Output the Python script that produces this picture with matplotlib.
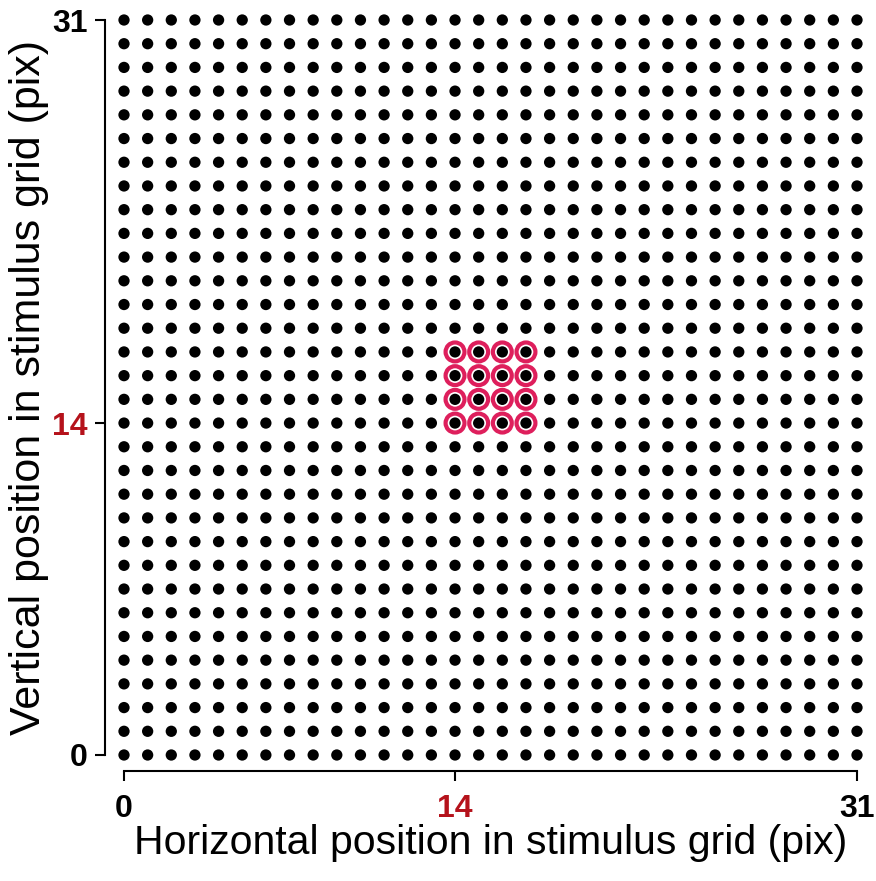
import matplotlib.pyplot as plt
import numpy as np

plt.rcParams['font.family'] = ['Liberation Sans', 'DejaVu Sans']

grid_size = 32
rf_x = [14, 15, 16, 17]
rf_y = [14, 15, 16, 17]
tick_vals = [0, 14, 31]
tick_labels = ['0', '14', '31']
tick_colors = ['black', '#B5121B', 'black']
xlabel = 'Horizontal position in stimulus grid (pix)'
ylabel = 'Vertical position in stimulus grid (pix)'

fig = plt.figure(figsize=(8.76, 8.81), dpi=100)
ax = fig.add_axes([124/876, 1 - 755/881, (857 - 124)/876, (755 - 20)/881])

gx, gy = np.meshgrid(np.arange(grid_size), np.arange(grid_size))
ax.scatter(gx.ravel(), gy.ravel(), s=66, c='black', edgecolors='none', clip_on=False, zorder=2)

# receptive field highlight
rx, ry = np.meshgrid(rf_x, rf_y)
ax.scatter(rx.ravel(), ry.ravel(), s=185, facecolors='none', edgecolors='#DE1F5C',
           linewidths=3.0, clip_on=False, zorder=3)

ax.set_xlim(0, 31)
ax.set_ylim(0, 31)

for side in ['top', 'right']:
    ax.spines[side].set_visible(False)
ax.spines['left'].set_position(('outward', 13.7))
ax.spines['bottom'].set_position(('outward', 11.8))
ax.spines['left'].set_bounds(0, 31)
ax.spines['bottom'].set_bounds(0, 31)
for side in ['left', 'bottom']:
    ax.spines[side].set_linewidth(1.5)

ax.set_xticks(tick_vals)
ax.set_yticks(tick_vals)
ax.set_xticklabels(tick_labels, fontsize=23, fontweight='bold')
ax.set_yticklabels(tick_labels, fontsize=23, fontweight='bold')
for lab, col in zip(ax.get_xticklabels(), tick_colors):
    lab.set_color(col)
for lab, col in zip(ax.get_yticklabels(), tick_colors):
    lab.set_color(col)
ax.tick_params(length=7.5, width=1.5)
ax.tick_params(axis='x', pad=9)
ax.tick_params(axis='y', pad=5)

ax.set_xlabel(xlabel, fontsize=29.5, labelpad=0)
ax.set_ylabel(ylabel, fontsize=31, labelpad=2)

fig.savefig('out.png', dpi=100)
